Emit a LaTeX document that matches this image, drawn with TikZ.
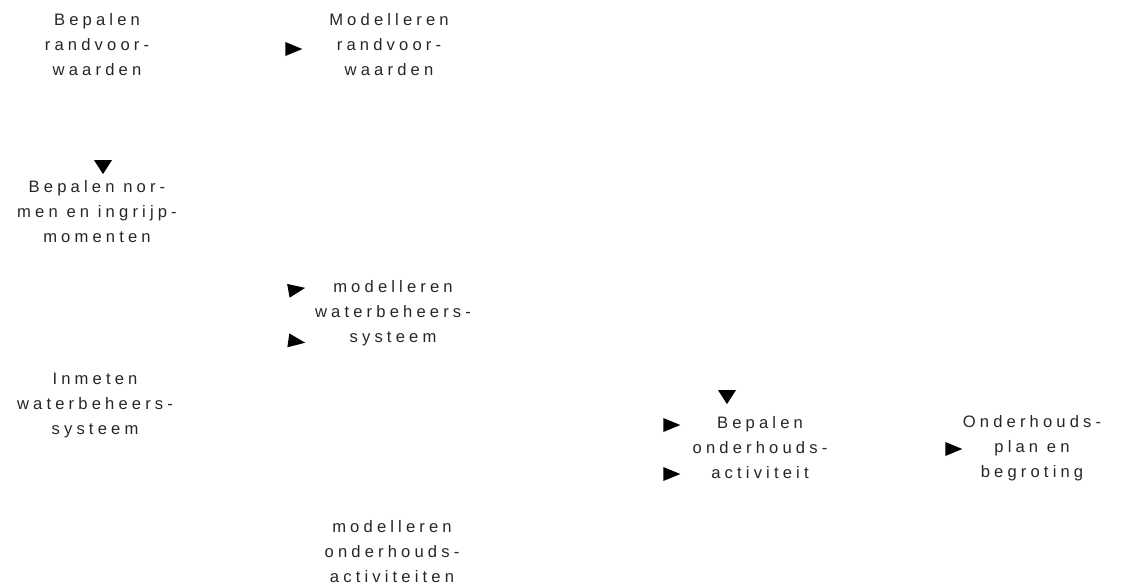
\documentclass[tikz,border=0pt]{standalone}
\usepackage{fontspec}
\setmainfont{Liberation Sans}
\newfontfamily\spaced[LetterSpace=25]{Liberation Sans}
\usetikzlibrary{shapes.geometric}

\tikzset{
    stap/.style={align=center, inner sep=0pt, text=black!85, font=\spaced\fontsize{8.3}{12.5}\selectfont},
    tip/.style={isosceles triangle, isosceles triangle stretches, fill=black, inner sep=0pt, minimum width=7pt, minimum height=8.5pt},
    tipneer/.style={tip, shape border rotate=-90, minimum width=9pt, minimum height=7pt}
}

\begin{document}
\begin{tikzpicture}[x=0.5pt, y=-0.5pt]
        \useasboundingbox (0,0) rectangle (1146,586);

        % bovenste rij
        \node[stap] (randbep) at (97, 45) {Bepalen\\randvoor-\\waarden};
        \node[stap] (randmod) at (389, 45) {Modelleren\\randvoor-\\waarden};
        \node[tip] (t1) at (290, 49) {};

        % normen
        \node[tipneer] (t2) at (103, 165) {};
        \node[stap] (normen) at (97, 212) {Bepalen nor-\\men en ingrijp-\\momenten};

        % waterbeheerssysteem
        \node[tip, rotate=10] (t3) at (293, 290) {};
        \node[tip, rotate=-8] (t4) at (293, 341) {};
        \node[stap] (watmod) at (393, 313) {modelleren\\waterbeheers-\\systeem};
        \node[stap] (inmeten) at (95, 405) {Inmeten\\waterbeheers-\\systeem};

        % onderhoud
        \node[tipneer] (t5) at (727, 395) {};
        \node[tip] (t6) at (668, 425) {};
        \node[tip] (t7) at (668, 474) {};
        \node[stap] (actbep) at (760, 448) {Bepalen\\onderhouds-\\activiteit};
        \node[tip] (t8) at (950, 449) {};
        \node[stap] (plan) at (1032, 448) {Onderhouds-\\plan en\\begroting};

        \node[stap] (actmod) at (392, 552) {modelleren\\onderhouds-\\activiteiten};
    \end{tikzpicture}
\end{document}
